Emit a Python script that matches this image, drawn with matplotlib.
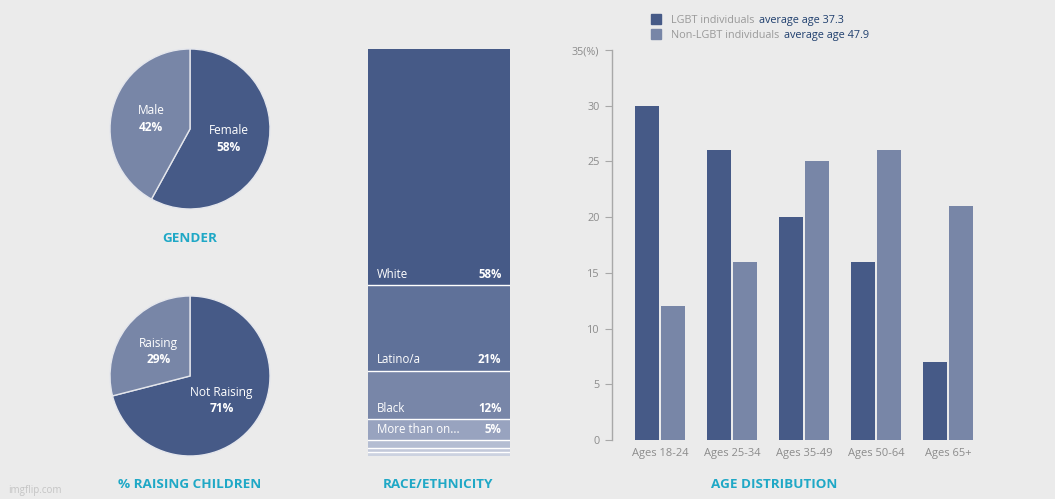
import matplotlib

matplotlib.use("Agg")
import matplotlib.pyplot as plt
from matplotlib.patches import Rectangle
import numpy as np

plt.rcParams["font.family"] = ["Open Sans", "DejaVu Sans"]

# data
gender_labels = ["Female", "Male"]
gender_values = [58, 42]
children_labels = ["Not Raising", "Raising"]
children_values = [71, 29]
race_labels = ["White", "Latino/a", "Black", "More than on...", "Asian", "Other", "Native"]
race_values = [58, 21, 12, 5, 2, 1, 1]
race_show_label = [True, True, True, True, False, False, False]
age_groups = ["Ages 18-24", "Ages 25-34", "Ages 35-49", "Ages 50-64", "Ages 65+"]
lgbt_values = [30, 26, 20, 16, 7]
non_lgbt_values = [12, 16, 25, 26, 21]
legend_names = ["LGBT individuals", "Non-LGBT individuals"]
legend_notes = ["average age 37.3", "average age 47.9"]

BG = "#ebebeb"
DARK = "#465a87"
LIGHT = "#7886a7"
TEAL = "#1fa8c6"
GRAY = "#8c8c8c"
NAVY = "#1f3f6e"
RACE_COLORS = ["#465a87", "#5f7199", "#7886a8", "#98a3bf", "#b4bdd2", "#c3c9da", "#ccd2e0"]

W, H = 1055, 499
fig = plt.figure(figsize=(W / 100, H / 100), dpi=100, facecolor=BG)


def box(left, top, right, bottom):
    return [left / W, (H - bottom) / H, (right - left) / W, (bottom - top) / H]


def pie_panel(rect, labels, values):
    ax = fig.add_axes(rect)
    ax.set_facecolor(BG)
    wedges, _ = ax.pie(
        values,
        colors=[DARK, LIGHT],
        startangle=90,
        counterclock=False,
        wedgeprops={"edgecolor": "#e4e6ec", "linewidth": 1.0},
    )
    for w, lab, val in zip(wedges, labels, values):
        ang = np.deg2rad((w.theta1 + w.theta2) / 2)
        cx, cy = 0.5 * np.cos(ang), 0.5 * np.sin(ang)
        ax.text(cx, cy + 0.02, lab, color="white", fontsize=8.6, ha="center", va="bottom")
        ax.text(cx, cy - 0.02, f"{val}%", color="white", fontsize=8.6, ha="center",
                va="top", fontweight="bold")
    ax.set_xlim(-1, 1)
    ax.set_ylim(-1, 1)
    ax.set_aspect("equal")
    return ax


pie_panel(box(110, 49, 270, 209), gender_labels, gender_values)
pie_panel(box(110, 296, 270, 456), children_labels, children_values)

# race / ethnicity stacked column
ax_r = fig.add_axes(box(368, 49, 510, 456))
ax_r.set_facecolor(BG)
bottom = 0
for lab, val, col, show in zip(race_labels, race_values, RACE_COLORS, race_show_label):
    ax_r.bar(0, val, bottom=bottom, width=1.0, color=col, linewidth=0, align="center")
    if bottom > 0:
        ax_r.plot([-0.5, 0.5], [bottom, bottom], color="white", linewidth=1.0)
    if show:
        y = bottom + val - 1.0
        ax_r.text(-0.44, y, lab, color="white", fontsize=8.3, ha="left", va="bottom")
        ax_r.text(0.44, y, f"{val}%", color="white", fontsize=8.3, ha="right", va="bottom",
                  fontweight="bold")
    bottom += val
ax_r.set_xlim(-0.5, 0.5)
ax_r.set_ylim(sum(race_values), 0)
ax_r.axis("off")

# age distribution
ax_b = fig.add_axes(box(612, 50, 984, 440))
ax_b.set_facecolor(BG)
x = np.arange(len(age_groups))
bw = 24 / 72
ax_b.bar(x - bw / 2 - 0.007, lgbt_values, width=bw, color=DARK)
ax_b.bar(x + bw / 2 + 0.007, non_lgbt_values, width=bw, color=LIGHT)
ax_b.set_xlim(-48 / 72, 4.5)
ax_b.set_ylim(0, 35)
ax_b.set_yticks(range(0, 36, 5))
ax_b.set_yticklabels([str(v) for v in range(0, 35, 5)] + ["35(%)"])
ax_b.set_xticks(x)
ax_b.set_xticklabels(age_groups)
for s in ["top", "right", "bottom"]:
    ax_b.spines[s].set_visible(False)
ax_b.spines["left"].set_color("#a8a8a8")
ax_b.spines["left"].set_linewidth(1.0)
ax_b.tick_params(axis="y", colors="#a8a8a8", labelcolor=GRAY, labelsize=7.8, length=5, pad=4)
ax_b.tick_params(axis="x", length=0, labelcolor=GRAY, labelsize=8, pad=6)

# legend
for i, (name, note, col) in enumerate(zip(legend_names, legend_notes, [DARK, LIGHT])):
    yc = 19 + i * 15
    fig.patches.append(Rectangle((651 / W, (H - yc - 5) / H), 10 / W, 10 / H,
                                 transform=fig.transFigure, color=col))
    t = fig.text(671 / W, (H - yc - 4) / H, name, color="#9a9a9a", fontsize=7.8,
                 va="baseline")
    fig.canvas.draw()
    bb = t.get_window_extent()
    fig.text((bb.x1 + 5) / W, (H - yc - 4) / H, note, color=NAVY, fontsize=7.8,
             va="baseline")

# titles
for label, xc, yc in [("GENDER", 190, 238), ("% RAISING CHILDREN", 190, 485),
                      ("RACE/ETHNICITY", 438, 485), ("AGE DISTRIBUTION", 774, 485)]:
    fig.text(xc / W, (H - yc) / H, label, color=TEAL, fontsize=9.7, fontweight="bold",
             ha="center", va="center")

fig.text(8 / W, (H - 490) / H, "imgflip.com", color="#c4c4c4", fontsize=7, va="center")

fig.savefig("out.png", dpi=100, facecolor=BG)
